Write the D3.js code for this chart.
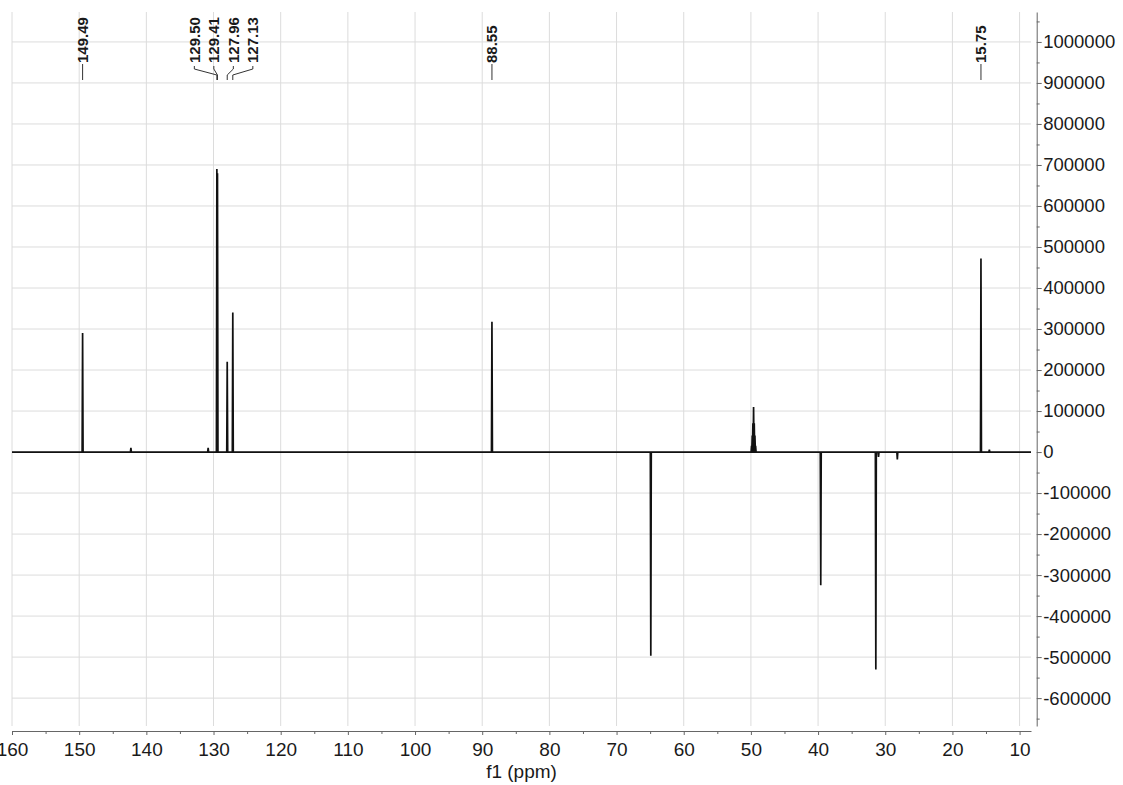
<!DOCTYPE html>
<html>
<head>
<meta charset="utf-8">
<script src="https://cdn.jsdelivr.net/npm/d3@7"></script>
<style>
  body { margin: 0; background: #fff; }
  svg { display: block; }
  text { font-family: Arial, "Liberation Sans", sans-serif; }
</style>
</head>
<body>
<div id="canvas"></div>
<script>
// 13C spectrum, peaks (ppm, intensity)
const peakPpm    = [149.49, 142.3, 130.8, 129.50, 129.41, 127.96, 127.13, 88.55, 64.9,
                    49.9, 49.8, 49.7, 49.6, 49.5, 49.4, 49.3, 39.6, 31.4, 31.0, 28.2, 15.75, 14.5];
const peakHeight = [290000, 10000, 10000, 690000, 680000, 220000, 340000, 318000, -497000,
                    15000, 40000, 70000, 110000, 70000, 40000, 15000, -325000, -530000, -12000, -18000, 472000, 6000];

// labelled peaks at the top
const labelGroups = [
  ["149.49"],
  ["129.50", "129.41", "127.96", "127.13"],
  ["88.55"],
  ["15.75"]
];

const xTicks = [160, 150, 140, 130, 120, 110, 100, 90, 80, 70, 60, 50, 40, 30, 20, 10];
const yTicks = [-600000, -500000, -400000, -300000, -200000, -100000, 0, 100000, 200000,
                300000, 400000, 500000, 600000, 700000, 800000, 900000, 1000000];

const W = 1123, H = 785;
const plot = {left: 12, right: 1031, top: 12, bottom: 726};

const svg = d3.select("#canvas")
    .append("svg")
    .attr("width", W)
    .attr("height", H);

const x = d3.scaleLinear()
    .domain([160, 8.3])
    .range([plot.left, plot.right]);

const y = d3.scaleLinear()
    .domain([-668000, 1073000])
    .range([plot.bottom, plot.top]);

// grid
const grid = svg.append("g").attr("stroke", "#dcdcdc").attr("stroke-width", 1);
grid.selectAll("line.v")
    .data(xTicks)
    .enter().append("line")
    .attr("x1", d => x(d)).attr("x2", d => x(d))
    .attr("y1", plot.top).attr("y2", plot.bottom);
grid.selectAll("line.h")
    .data(yTicks)
    .enter().append("line")
    .attr("x1", plot.left).attr("x2", plot.right)
    .attr("y1", d => y(d)).attr("y2", d => y(d));

// x axis
const xAxisY = 731;
const xAxis = svg.append("g")
    .attr("transform", "translate(0," + xAxisY + ")")
    .call(d3.axisBottom(x).tickValues(xTicks).tickSize(4).tickPadding(8).tickSizeOuter(0)
        .tickFormat(d => String(d)));
svg.append("g")
    .attr("transform", "translate(0," + xAxisY + ")")
    .call(d3.axisBottom(x).tickValues(d3.range(155, 8, -10)).tickSize(3).tickFormat(""))
    .call(g => g.select(".domain").remove());

// y axis
const yAxisX = 1036.7;
const yAxis = svg.append("g")
    .attr("transform", "translate(" + yAxisX + ",0)")
    .call(d3.axisRight(y).tickValues(yTicks).tickSize(5).tickPadding(1.5).tickSizeOuter(0)
        .tickFormat(d => String(d)));
svg.append("g")
    .attr("transform", "translate(" + yAxisX + ",0)")
    .call(d3.axisRight(y).tickValues(d3.range(-650000, 1060000, 100000)).tickSize(3).tickFormat(""))
    .call(g => g.select(".domain").remove());

svg.selectAll(".domain, .tick line").attr("stroke", "#666");
xAxis.selectAll("text").attr("font-size", 19).attr("fill", "#1a1a1a");
yAxis.selectAll("text").attr("font-size", 18.5).attr("fill", "#1a1a1a");

svg.append("text")
    .attr("x", (plot.left + plot.right) / 2)
    .attr("y", 778)
    .attr("text-anchor", "middle")
    .attr("font-size", 19)
    .attr("fill", "#1a1a1a")
    .text("f1 (ppm)");

// spectrum: baseline with each peak as a narrow spike
const halfWidth = 0.07;
const pts = [[160, 0]];
d3.range(peakPpm.length)
    .sort((a, b) => peakPpm[b] - peakPpm[a])
    .forEach(i => {
        pts.push([peakPpm[i] + halfWidth, 0]);
        pts.push([peakPpm[i], peakHeight[i]]);
        pts.push([peakPpm[i] - halfWidth, 0]);
    });
pts.push([8.3, 0]);

const line = d3.line()
    .x(d => x(d[0]))
    .y(d => y(d[1]));

svg.append("path")
    .datum(pts)
    .attr("fill", "none")
    .attr("stroke", "#111")
    .attr("stroke-width", 1.7)
    .attr("stroke-linejoin", "miter")
    .attr("d", line);

// peak labels with connectors
const labelBottom = 64, peakMarkY = 80;
const spacing = 19.5;
const labels = svg.append("g");
labelGroups.forEach(group => {
    const px = group.map(s => x(+s));
    const centre = d3.mean(px);
    group.forEach((s, i) => {
        const lx = centre + (i - (group.length - 1) / 2) * spacing;
        labels.append("text")
            .attr("transform", "translate(" + lx + "," + (labelBottom - 1) + ") rotate(-90)")
            .attr("dy", "0.36em")
            .attr("font-size", 15)
            .attr("font-weight", "bold")
            .attr("fill", "#1a1a1a")
            .text(s);
        const pathPts = group.length === 1
            ? [[lx, labelBottom], [px[i], peakMarkY]]
            : [[lx, labelBottom + 2], [lx, labelBottom + 5], [px[i], peakMarkY - 5], [px[i], peakMarkY]];
        labels.append("path")
            .attr("d", d3.line()(pathPts))
            .attr("fill", "none")
            .attr("stroke", "#333")
            .attr("stroke-width", 1);
    });
});
</script>
</body>
</html>
